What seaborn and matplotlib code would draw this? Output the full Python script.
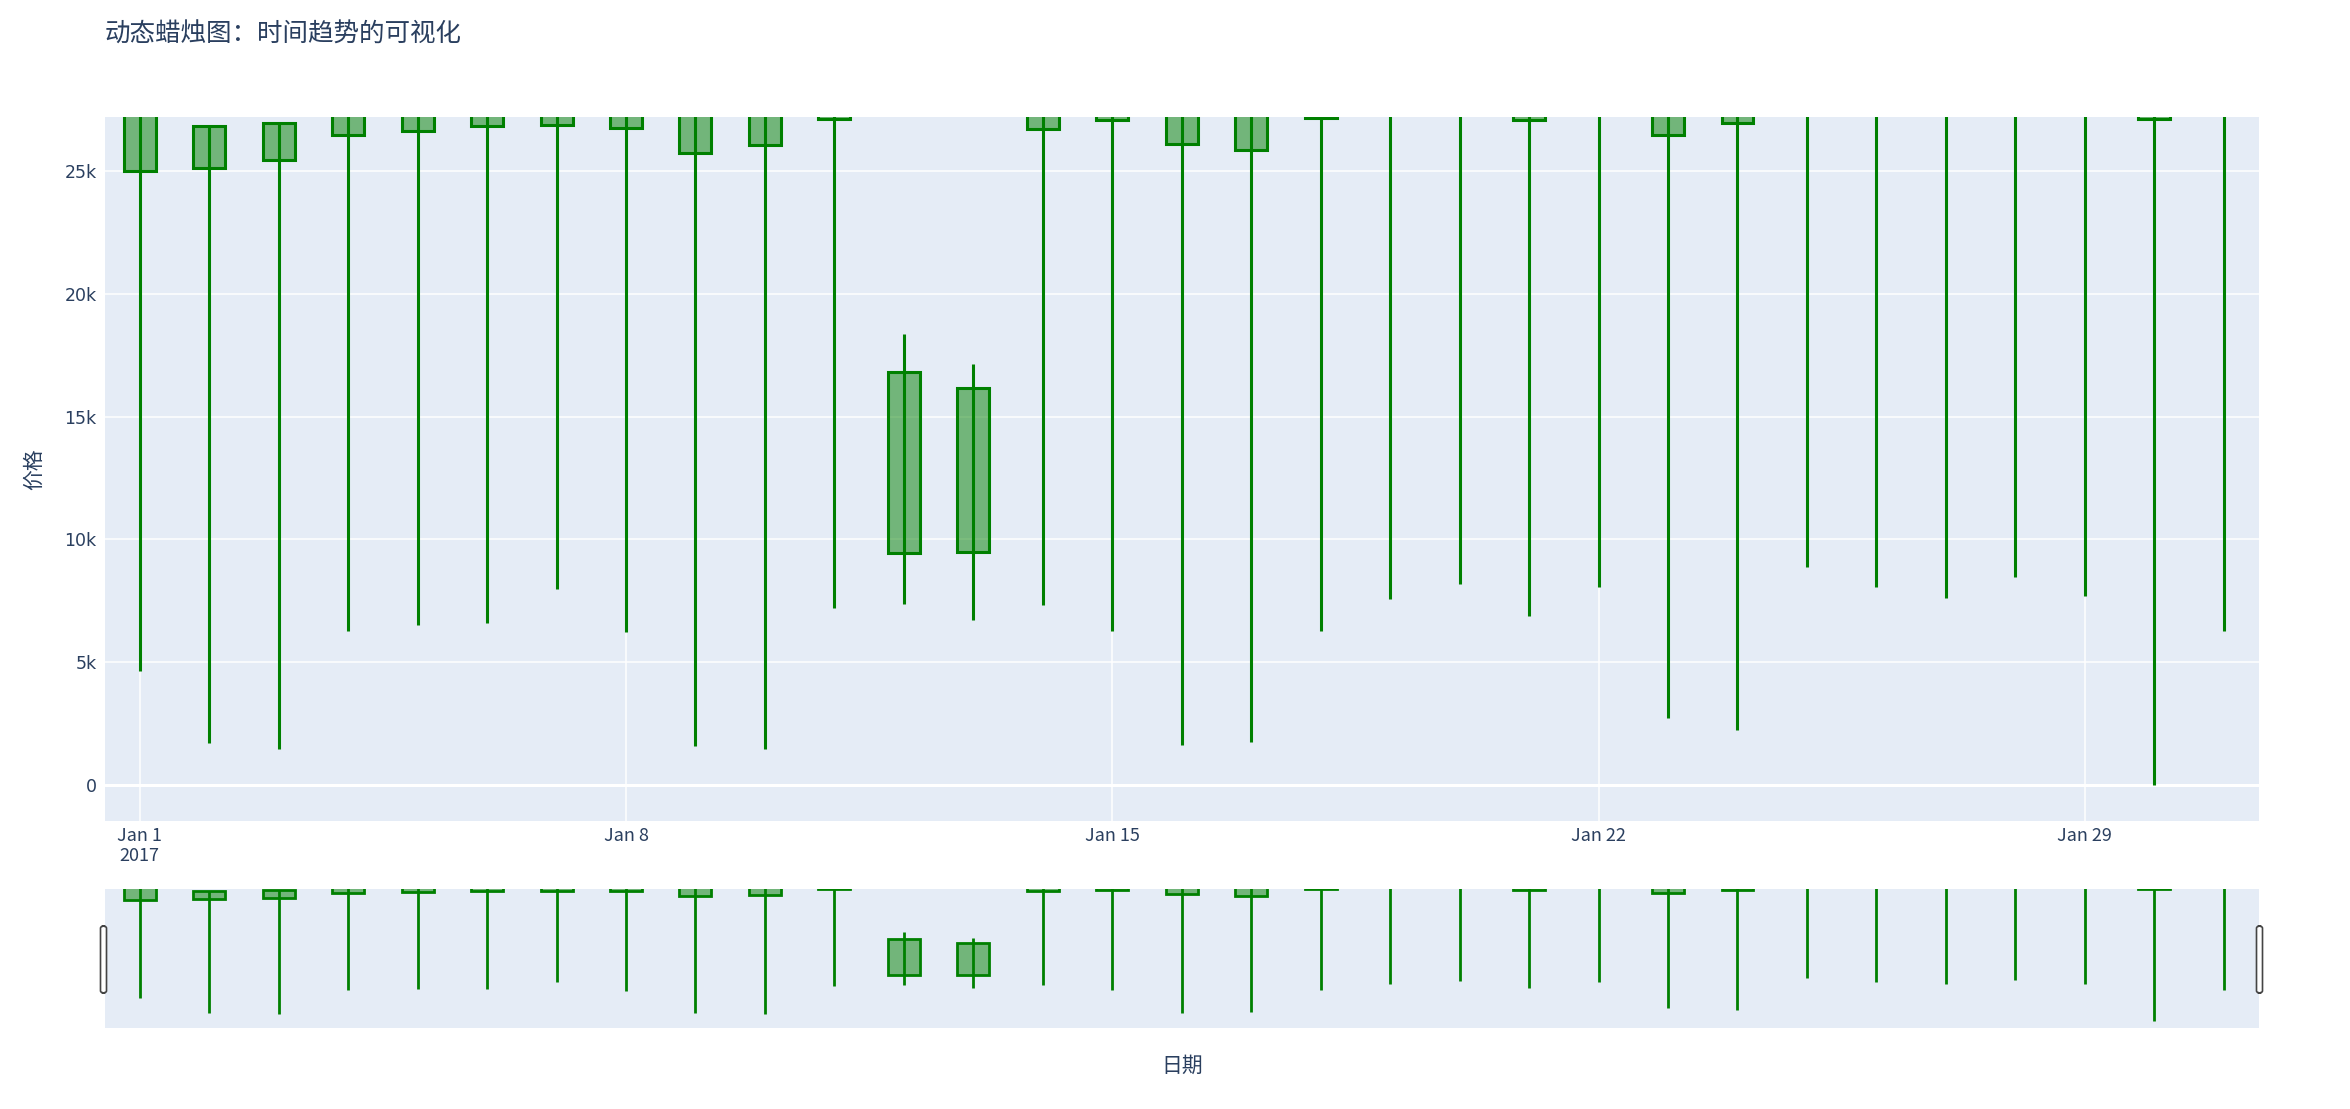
import numpy as np
import pandas as pd
import seaborn as sns
import matplotlib
matplotlib.use("Agg")
from matplotlib import pyplot as plt
from matplotlib.patches import FancyBboxPatch
from matplotlib.ticker import FuncFormatter

# daily OHLC, Jan 2017 (values above ~27.2k are off the visible range)
dates = pd.date_range("2017-01-01", periods=31, freq="D")
opens = [25000, 25120, 25430, 26460, 26650, 26830, 26890, 26770, 25730, 26040,
         27130, 9450, 9510, 26700, 27070, 26100, 25850, 27160, 27600, 27900,
         27070, 28100, 26460, 26950, 28300, 27800, 28000, 27700, 28200, 27130, 27900]
closes = [28600, 26830, 26950, 28100, 28400, 28900, 28300, 29100, 28700, 28200,
          28800, 16830, 16160, 28500, 28900, 29300, 28800, 29000, 29400, 29100,
          28700, 29600, 28900, 29200, 29800, 29300, 29500, 29100, 29700, 28800, 29400]
highs = [30200, 26860, 27000, 29600, 30100, 30400, 29800, 30500, 30300, 29900,
         30200, 18350, 17130, 30100, 30400, 30800, 30300, 30600, 31000, 30700,
         30200, 31100, 30500, 30800, 31400, 30900, 31000, 30600, 31200, 30300, 31000]
lows = [4650, 1700, 1460, 6280, 6520, 6590, 7990, 6220, 1590, 1460,
        7200, 7380, 6710, 7320, 6280, 1650, 1770, 6280, 7560, 8170,
        6890, 8050, 2740, 2260, 8900, 8050, 7620, 8480, 7680, 0, 6280]

tick_dates = ["2017-01-01", "2017-01-08", "2017-01-15", "2017-01-22", "2017-01-29"]
tick_labels = ["Jan 1\n2017", "Jan 8", "Jan 15", "Jan 22", "Jan 29"]
y_ticks = [0, 5000, 10000, 15000, 20000, 25000]

title = "动态蜡烛图：时间趋势的可视化"
xlabel = "日期"
ylabel = "价格"

sns.set_theme(style="darkgrid", rc={"axes.facecolor": "#E5ECF6", "grid.color": "white",
                                    "grid.linewidth": 1.1})
plt.rcParams["font.family"] = ["Noto Sans CJK SC", "DejaVu Sans"]
text_color = "#2a3f5f"

df = pd.DataFrame({"date": dates, "open": opens, "high": highs, "low": lows, "close": closes})

W, H = 2350, 1109
fig = plt.figure(figsize=(W / 100, H / 100), dpi=100)
ax = fig.add_axes([105 / W, 1 - 821 / H, (2258.5 - 105) / W, (821 - 117) / H])
ax_rs = fig.add_axes([105 / W, 1 - 1028 / H, (2258.5 - 105) / W, (1028 - 889) / H])

xmin = dates[0] - pd.Timedelta(hours=12)
xmax = dates[-1] + pd.Timedelta(hours=12)
ylim = (-1460, 27200)


def draw_candles(a, lw):
    a.bar(df["date"], df["close"] - df["open"], bottom=df["open"], width=0.46,
          facecolor=(0, 0.5, 0, 0.5), edgecolor="green", linewidth=lw, zorder=2)
    a.vlines(df["date"], df["low"], df["high"], color="green", linewidth=lw, zorder=3)
    a.set_xlim(xmin, xmax)
    a.set_ylim(*ylim)
    for s in a.spines.values():
        s.set_visible(False)


draw_candles(ax, 2.2)
ax.set_axisbelow(True)
ax.axhline(0, color="white", linewidth=2.2, zorder=1)
ax.set_xticks(pd.to_datetime(tick_dates))
ax.set_xticklabels(tick_labels, fontsize=13, color=text_color, linespacing=1.2)
ax.set_yticks(y_ticks)
ax.yaxis.set_major_formatter(FuncFormatter(lambda v, p: "0" if v == 0 else f"{int(v / 1000)}k"))
for lab in ax.get_yticklabels():
    lab.set_fontfamily("DejaVu Sans")
ax.tick_params(axis="y", length=0, pad=6, labelsize=12.5, labelcolor=text_color)
ax.tick_params(axis="x", length=0, pad=4, labelcolor=text_color)
ax.set_xlabel("")
ax.set_ylabel("")

draw_candles(ax_rs, 2.0)
ax_rs.grid(False)
ax_rs.set_xticks([])
ax_rs.set_yticks([])

# range slider handles
for cx in (103.5, 2259.5):
    fig.patches.append(FancyBboxPatch(((cx - 3) / W, 1 - 993 / H), 6 / W, 67 / H,
                                      boxstyle="round,pad=0,rounding_size=0.002",
                                      transform=fig.transFigure, facecolor="white",
                                      edgecolor="#444444", linewidth=1.2))

fig.text(105 / W, 1 - 35 / H, title, fontsize=18.4, color=text_color, va="center", ha="left")
fig.text((105 + 2258.5) / 2 / W, 1 - 1066 / H, xlabel, fontsize=15, color=text_color,
         ha="center", va="center")
fig.text(34 / W, 1 - 469 / H, ylabel, fontsize=15, color=text_color, rotation=90,
         ha="center", va="center")

fig.savefig("out.png", dpi=100)
